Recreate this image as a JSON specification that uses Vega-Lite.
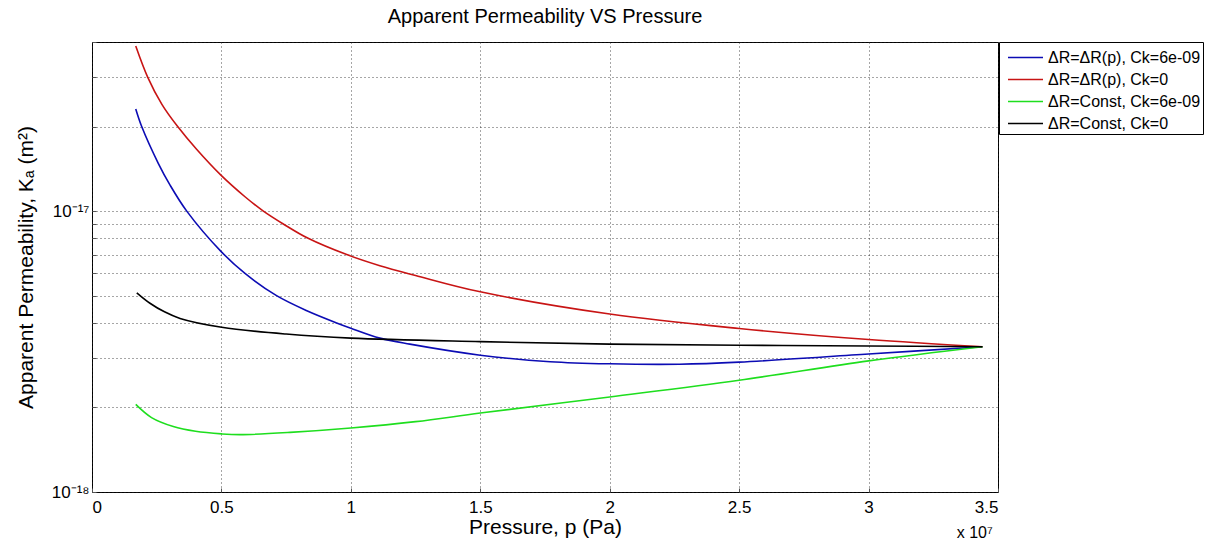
{
  "$schema": "https://vega.github.io/schema/vega-lite/v6.json",
  "width": 906,
  "height": 450,
  "autosize": {"type": "none"},
  "padding": {"left": 92, "top": 42, "right": 208, "bottom": 51},
  "background": "white",
  "title": {"text": "Apparent Permeability VS Pressure", "fontSize": 20, "font": "Liberation Sans", "fontWeight": "normal", "anchor": "middle", "frame": "group", "baseline": "alphabetic", "offset": 17, "dy": 27, "color": "black"},
  "config": {
    "view": {"stroke": "black", "strokeWidth": 1},
    "font": "Liberation Sans",
    "axis": {
      "labelFont": "Liberation Sans", "labelFontSize": 17, "labelColor": "black",
      "titleFont": "Liberation Sans", "titleFontSize": 21, "titleFontWeight": "normal", "titleColor": "black",
      "grid": true, "gridColor": "#222", "gridDash": [1, 3], "gridWidth": 1, "gridOpacity": 0.8,
      "domain": false, "ticks": true, "tickSize": -4, "tickColor": "#555", "labelOverlap": false
    }
  },
  "layer": [
    {
      "data": {"values": [
        {"series": "ΔR=ΔR(p), Ck=6e-09", "p": 1690000, "k": 2.31e-17},
        {"series": "ΔR=ΔR(p), Ck=6e-09", "p": 1920000, "k": 2.0e-17},
        {"series": "ΔR=ΔR(p), Ck=6e-09", "p": 2560000, "k": 1.48e-17},
        {"series": "ΔR=ΔR(p), Ck=6e-09", "p": 3010000, "k": 1.24e-17},
        {"series": "ΔR=ΔR(p), Ck=6e-09", "p": 3660000, "k": 1.0e-17},
        {"series": "ΔR=ΔR(p), Ck=6e-09", "p": 5000000, "k": 7.16e-18},
        {"series": "ΔR=ΔR(p), Ck=6e-09", "p": 5910000, "k": 6.0e-18},
        {"series": "ΔR=ΔR(p), Ck=6e-09", "p": 7130000, "k": 5.0e-18},
        {"series": "ΔR=ΔR(p), Ck=6e-09", "p": 8300000, "k": 4.42e-18},
        {"series": "ΔR=ΔR(p), Ck=6e-09", "p": 9450000, "k": 4.0e-18},
        {"series": "ΔR=ΔR(p), Ck=6e-09", "p": 10000000, "k": 3.83e-18},
        {"series": "ΔR=ΔR(p), Ck=6e-09", "p": 11120000, "k": 3.53e-18},
        {"series": "ΔR=ΔR(p), Ck=6e-09", "p": 12280000, "k": 3.36e-18},
        {"series": "ΔR=ΔR(p), Ck=6e-09", "p": 15000000, "k": 3.07e-18},
        {"series": "ΔR=ΔR(p), Ck=6e-09", "p": 17700000, "k": 2.91e-18},
        {"series": "ΔR=ΔR(p), Ck=6e-09", "p": 20000000, "k": 2.86e-18},
        {"series": "ΔR=ΔR(p), Ck=6e-09", "p": 22700000, "k": 2.85e-18},
        {"series": "ΔR=ΔR(p), Ck=6e-09", "p": 25000000, "k": 2.9e-18},
        {"series": "ΔR=ΔR(p), Ck=6e-09", "p": 30000000, "k": 3.1e-18},
        {"series": "ΔR=ΔR(p), Ck=6e-09", "p": 34400000, "k": 3.29e-18},
        {"series": "ΔR=ΔR(p), Ck=0", "p": 1690000, "k": 3.87e-17},
        {"series": "ΔR=ΔR(p), Ck=0", "p": 2150000, "k": 3.0e-17},
        {"series": "ΔR=ΔR(p), Ck=0", "p": 2700000, "k": 2.4e-17},
        {"series": "ΔR=ΔR(p), Ck=0", "p": 3310000, "k": 2.0e-17},
        {"series": "ΔR=ΔR(p), Ck=0", "p": 4040000, "k": 1.66e-17},
        {"series": "ΔR=ΔR(p), Ck=0", "p": 4980000, "k": 1.343e-17},
        {"series": "ΔR=ΔR(p), Ck=0", "p": 5910000, "k": 1.125e-17},
        {"series": "ΔR=ΔR(p), Ck=0", "p": 6620000, "k": 1.0e-17},
        {"series": "ΔR=ΔR(p), Ck=0", "p": 7390000, "k": 9.0e-18},
        {"series": "ΔR=ΔR(p), Ck=0", "p": 8350000, "k": 8.0e-18},
        {"series": "ΔR=ΔR(p), Ck=0", "p": 9840000, "k": 7.0e-18},
        {"series": "ΔR=ΔR(p), Ck=0", "p": 11120000, "k": 6.39e-18},
        {"series": "ΔR=ΔR(p), Ck=0", "p": 12500000, "k": 5.9e-18},
        {"series": "ΔR=ΔR(p), Ck=0", "p": 15000000, "k": 5.16e-18},
        {"series": "ΔR=ΔR(p), Ck=0", "p": 20000000, "k": 4.3e-18},
        {"series": "ΔR=ΔR(p), Ck=0", "p": 25000000, "k": 3.82e-18},
        {"series": "ΔR=ΔR(p), Ck=0", "p": 30000000, "k": 3.49e-18},
        {"series": "ΔR=ΔR(p), Ck=0", "p": 34400000, "k": 3.29e-18},
        {"series": "ΔR=Const, Ck=6e-09", "p": 1690000, "k": 2.05e-18},
        {"series": "ΔR=Const, Ck=6e-09", "p": 2300000, "k": 1.84e-18},
        {"series": "ΔR=Const, Ck=6e-09", "p": 3140000, "k": 1.71e-18},
        {"series": "ΔR=Const, Ck=6e-09", "p": 4000000, "k": 1.645e-18},
        {"series": "ΔR=Const, Ck=6e-09", "p": 5010000, "k": 1.61e-18},
        {"series": "ΔR=Const, Ck=6e-09", "p": 5720000, "k": 1.6e-18},
        {"series": "ΔR=Const, Ck=6e-09", "p": 7650000, "k": 1.63e-18},
        {"series": "ΔR=Const, Ck=6e-09", "p": 10000000, "k": 1.69e-18},
        {"series": "ΔR=Const, Ck=6e-09", "p": 12500000, "k": 1.78e-18},
        {"series": "ΔR=Const, Ck=6e-09", "p": 15000000, "k": 1.91e-18},
        {"series": "ΔR=Const, Ck=6e-09", "p": 20000000, "k": 2.18e-18},
        {"series": "ΔR=Const, Ck=6e-09", "p": 25000000, "k": 2.5e-18},
        {"series": "ΔR=Const, Ck=6e-09", "p": 30000000, "k": 2.93e-18},
        {"series": "ΔR=Const, Ck=6e-09", "p": 34400000, "k": 3.29e-18},
        {"series": "ΔR=Const, Ck=0", "p": 1730000, "k": 5.12e-18},
        {"series": "ΔR=Const, Ck=0", "p": 2240000, "k": 4.7e-18},
        {"series": "ΔR=Const, Ck=0", "p": 2800000, "k": 4.38e-18},
        {"series": "ΔR=Const, Ck=0", "p": 3400000, "k": 4.15e-18},
        {"series": "ΔR=Const, Ck=0", "p": 5010000, "k": 3.86e-18},
        {"series": "ΔR=Const, Ck=0", "p": 7500000, "k": 3.65e-18},
        {"series": "ΔR=Const, Ck=0", "p": 10000000, "k": 3.53e-18},
        {"series": "ΔR=Const, Ck=0", "p": 15000000, "k": 3.43e-18},
        {"series": "ΔR=Const, Ck=0", "p": 20000000, "k": 3.36e-18},
        {"series": "ΔR=Const, Ck=0", "p": 25000000, "k": 3.33e-18},
        {"series": "ΔR=Const, Ck=0", "p": 30000000, "k": 3.31e-18},
        {"series": "ΔR=Const, Ck=0", "p": 34400000, "k": 3.29e-18}
      ]},
      "mark": {"type": "line", "strokeWidth": 1.6, "interpolate": "catmull-rom"},
      "encoding": {
        "x": {
          "field": "p", "type": "quantitative",
          "scale": {"domain": [0, 35000000], "nice": false, "zero": false},
          "axis": {
            "values": [0, 5000000, 10000000, 15000000, 20000000, 25000000, 30000000, 35000000],
            "labelExpr": "format(datum.value / 10000000, '~g')",
            "title": "Pressure, p (Pa)",
            "labelPadding": 11,
            "titleX": 453, "titleY": 35, "titleBaseline": "middle", "titleAlign": "center"
          }
        },
        "y": {
          "field": "k", "type": "quantitative",
          "scale": {"type": "log", "domain": [1e-18, 4e-17], "nice": false},
          "axis": {
            "values": [1e-18, 2e-18, 3e-18, 4e-18, 5e-18, 6e-18, 7e-18, 8e-18, 9e-18, 1e-17, 2e-17, 3e-17, 4e-17],
            "labelExpr": "datum.value == 1e-17 ? '10⁻¹⁷' : (datum.value == 1e-18 ? '10⁻¹⁸' : '')",
            "title": "Apparent Permeability, Kₐ (m²)",
            "labelPadding": 7,
            "titleX": -66, "titleY": 225, "titleAngle": 270, "titleBaseline": "middle", "titleAlign": "center"
          }
        },
        "color": {
          "field": "series", "type": "nominal",
          "scale": {
            "domain": ["ΔR=ΔR(p), Ck=6e-09", "ΔR=ΔR(p), Ck=0", "ΔR=Const, Ck=6e-09", "ΔR=Const, Ck=0"],
            "range": ["#0c0cb4", "#c81414", "#1ede1e", "#000000"]
          },
          "legend": {
            "title": null, "orient": "none", "legendX": 907, "legendY": 0,
            "strokeColor": "black", "fillColor": "white", "padding": 2,
            "symbolType": "M-1.4,0L1.4,0", "symbolSize": 625, "symbolStrokeWidth": 1.6, "symbolOffset": 11,
            "rowPadding": -5, "labelFontSize": 16, "labelFont": "Liberation Sans", "labelColor": "black", "labelOffset": 9
          }
        }
      }
    },
    {
      "data": {"values": [{"label": "x 10⁷"}]},
      "mark": {"type": "text", "fontSize": 16, "font": "Liberation Sans", "color": "black", "align": "center", "baseline": "middle"},
      "encoding": {
        "x": {"datum": 34100000, "type": "quantitative"},
        "y": {"datum": 7.15e-19, "type": "quantitative"},
        "text": {"field": "label"}
      }
    }
  ]
}
